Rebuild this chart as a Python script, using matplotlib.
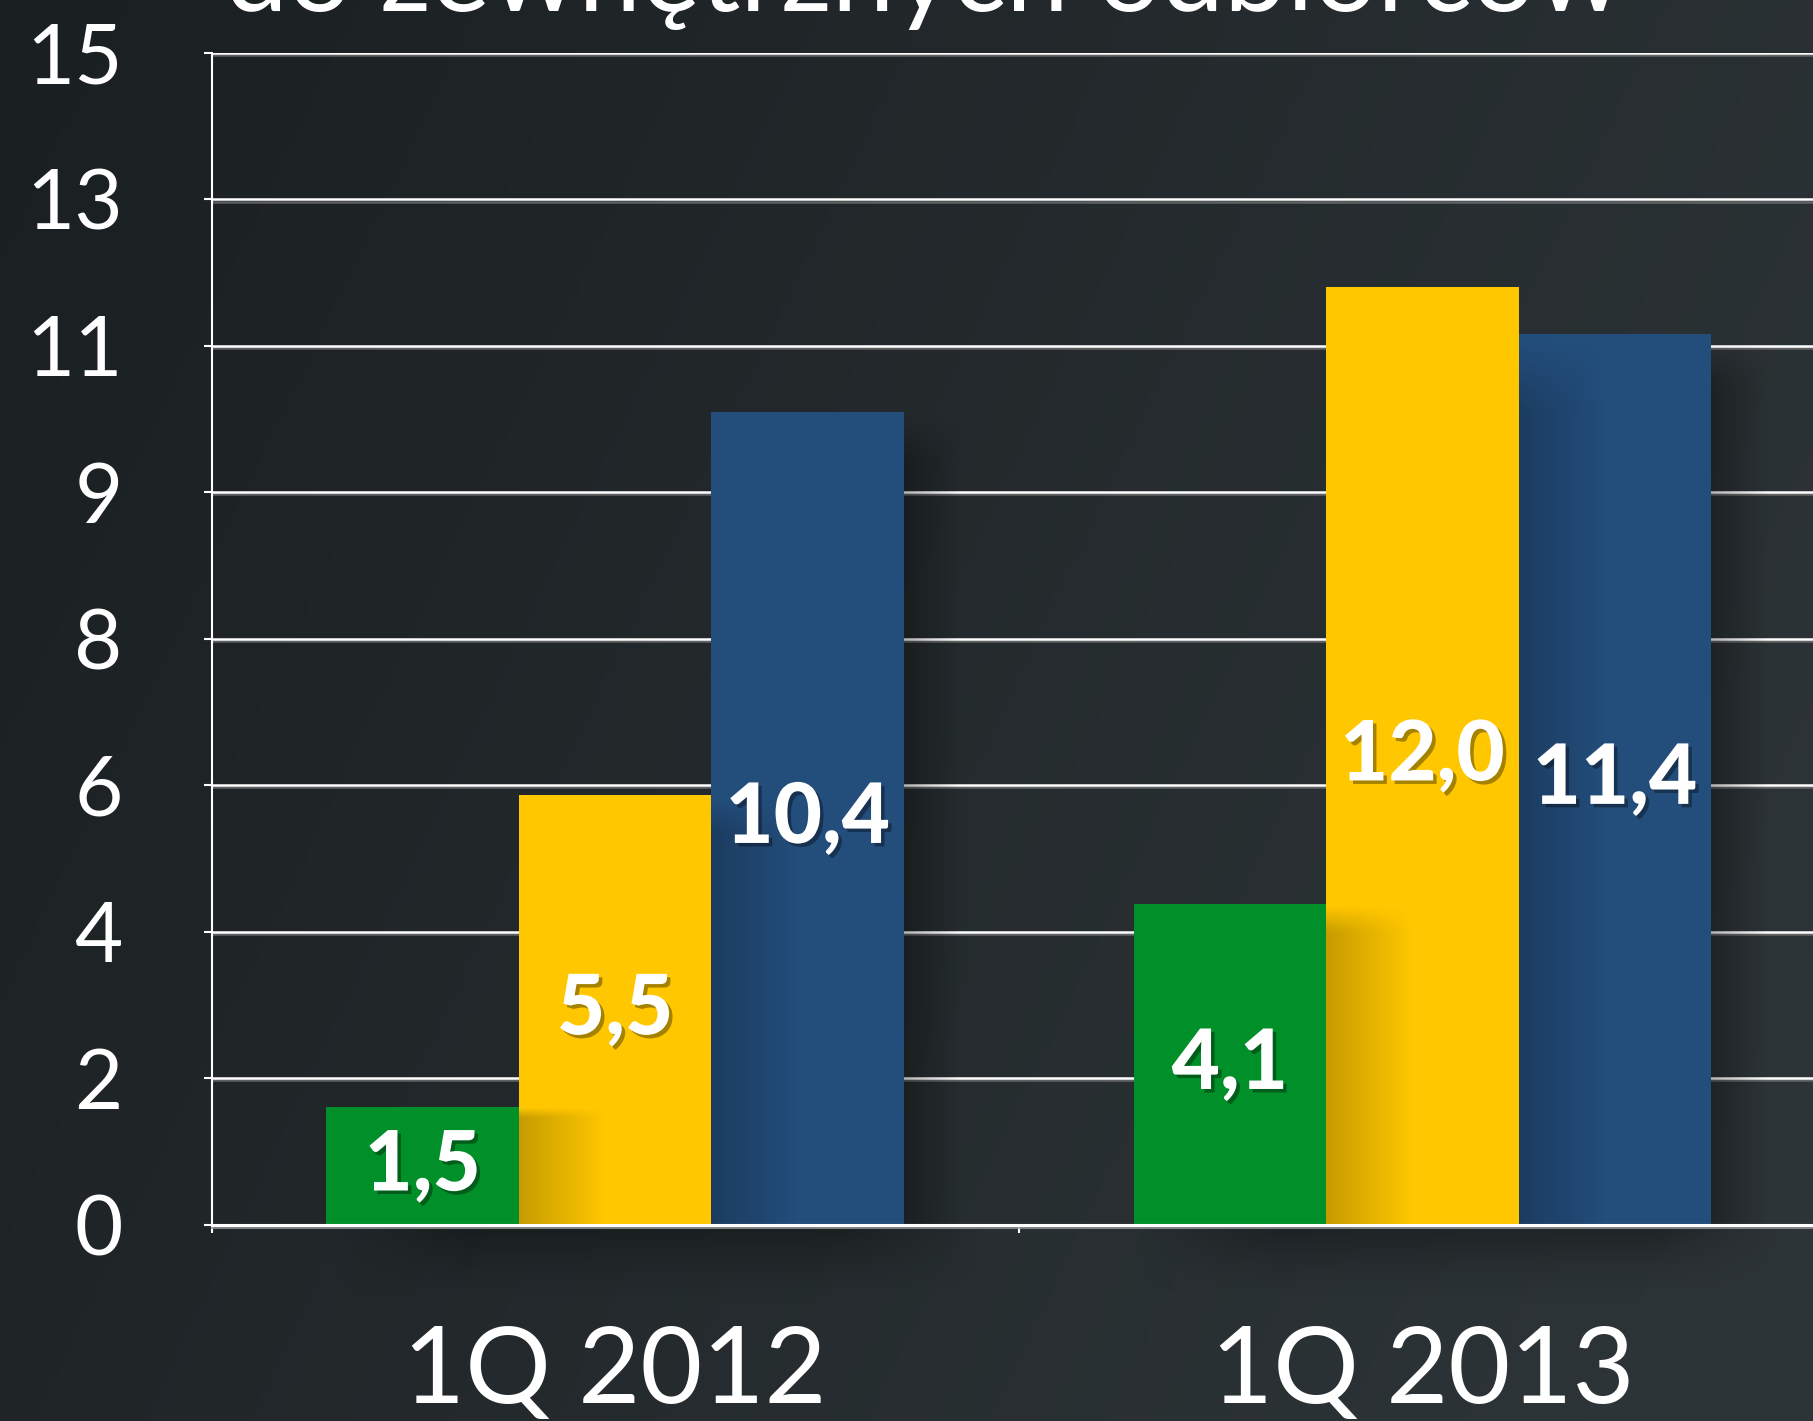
import numpy as np
import matplotlib
matplotlib.use('Agg')
import matplotlib.pyplot as plt
import matplotlib.patheffects as pe

categories = ['1Q 2012', '1Q 2013']
series_green = [1.5, 4.1]
series_yellow = [5.5, 12.0]
series_blue = [10.4, 11.4]
labels_green = ['1,5', '4,1']
labels_yellow = ['5,5', '12,0']
labels_blue = ['10,4', '11,4']
ytick_labels = ['0', '2', '4', '6', '8', '9', '11', '13', '15']
title_text = 'do zewnętrznych odbiorców'

colors = ['#008F28', '#FEC700', '#234D7B']
FONT = ['Lato', 'DejaVu Sans']
plt.rcParams['font.family'] = FONT

W, H = 1813, 1421
fig = plt.figure(figsize=(W / 100, H / 100), dpi=100)

# background gradient
bg = fig.add_axes([0, 0, 1, 1], zorder=-10)
bg.set_axis_off()
xx, yy = np.meshgrid(np.linspace(0, 1, 300), np.linspace(0, 1, 240))
t = np.clip(0.8 * xx + 0.3 * yy, 0, 1)
c0 = np.array([0x1a, 0x1f, 0x21]) / 255
c1 = np.array([0x2d, 0x34, 0x37]) / 255
img = c0 + (c1 - c0) * t[..., None]
bg.imshow(img, aspect='auto', extent=(0, 1, 0, 1), origin='upper')
bg.set_xlim(0, 1)
bg.set_ylim(0, 1)

ax = fig.add_axes([211.6 / W, 196.4 / H, (1826 - 211.6) / W, (1224.6 - 53) / H])
ax.patch.set_alpha(0)

x = np.arange(len(categories))
w = 0.2385
bg_ = ax.bar(x - w, series_green, w, color=colors[0], zorder=3)
by_ = ax.bar(x, series_yellow, w, color=colors[1], zorder=3)
bb_ = ax.bar(x + w, series_blue, w, color=colors[2], zorder=3)


def shade(x0, x1, y0, y1, alpha2d, z, clip=True):
    arr = np.zeros(alpha2d.shape + (4,))
    arr[..., 3] = alpha2d
    ax.imshow(arr, extent=(x0, x1, y0, y1), aspect='auto', zorder=z,
              interpolation='bicubic', clip_on=clip, origin='lower')


def hgrad(a0, a1, n=64, topfade=0.0):
    a = np.linspace(a0, a1, n)[None, :].repeat(n, axis=0)
    if topfade > 0:
        v = np.clip((1 - np.linspace(0, 1, n)) / topfade, 0, 1)[:, None]
        a = a * v
    return a


groups = [bg_, by_, bb_]
for gi in range(len(categories)):
    for k in range(1, 3):
        prev = groups[k - 1][gi]
        cur = groups[k][gi]
        hh = min(prev.get_height(), cur.get_height())
        shade(cur.get_x(), cur.get_x() + 0.45 * cur.get_width(), 0, hh,
              hgrad(0.22, 0.0, topfade=0.08), 3.5)
    last = groups[2][gi]
    shade(last.get_x() + last.get_width(), last.get_x() + 1.3 * last.get_width(),
          0, last.get_height(), hgrad(0.3, 0.0, topfade=0.05), 1.5)
    # soft shadow below the axis under the group
    first = groups[0][gi]
    n = 64
    yv = np.linspace(0, 1, n)[:, None]
    xv = np.linspace(0, 1, n)[None, :]
    a = 0.3 * yv ** 1.5 * np.clip(np.minimum(xv, 1 - xv) / 0.2, 0, 1)
    shade(first.get_x(), last.get_x() + last.get_width() + 0.1, -1.0, 0, a, 1, clip=False)

ax.set_xlim(-0.5, 1.5)
ax.set_ylim(0, 15)

# axes styling
ax.set_yticks(np.linspace(0, 15, 9))
ax.set_yticklabels(ytick_labels)
ax.set_xticks([-0.5, 0.5, 1.5])
ax.set_xticklabels(['', '', ''])
ax.set_xticks(x, minor=True)
ax.set_xticklabels(categories, minor=True)
ax.tick_params(axis='x', which='minor', length=0, pad=72, labelsize=77, labelcolor='white')
ax.tick_params(axis='x', which='major', length=6, width=1.5, color='white', direction='out')
ax.tick_params(axis='y', length=6, width=1.5, color='white', pad=58, labelsize=60, labelcolor='white')

for s in ['top', 'right']:
    ax.spines[s].set_visible(False)
ax.spines['left'].set_color('white')
ax.spines['left'].set_linewidth(1.5)
ax.spines['bottom'].set_color('white')
ax.spines['bottom'].set_linewidth(2.2)
ax.spines['bottom'].set_zorder(4)
ax.spines['bottom'].set_path_effects([pe.SimpleLineShadow(offset=(0, -2), shadow_color='#999999', alpha=0.8), pe.Normal()])

ax.set_axisbelow(True)
ax.grid(axis='y', color='white', linewidth=1.8)
for gl in ax.get_ygridlines():
    gl.set_path_effects([pe.SimpleLineShadow(offset=(0, -1.5), shadow_color='#888888', alpha=0.6), pe.Normal()])

label_fx = [pe.SimplePatchShadow(offset=(2.5, -2.5), shadow_rgbFace='black', alpha=0.35), pe.Normal()]
for bars, labs in zip(groups, [labels_green, labels_yellow, labels_blue]):
    ax.bar_label(bars, labels=labs, label_type='center', color='white', fontsize=60,
                 fontweight='black', zorder=6, path_effects=label_fx)

# title (partially cut off at the top of the image, as in the original)
ttl = fig.text(0.51, 1 - 11 / H, title_text, ha='center', va='baseline', fontsize=75,
               color='white')
fig.canvas.draw()
bb = ttl.get_window_extent()
ttl.set_fontsize(75 * 1400 / bb.width)

fig.savefig('out.png', dpi=100)
